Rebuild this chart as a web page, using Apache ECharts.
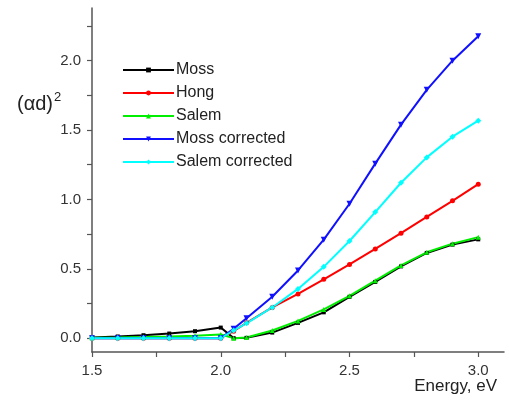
<!DOCTYPE html>
<html>
<head>
<meta charset="utf-8">
<script src="https://cdn.jsdelivr.net/npm/echarts@6/dist/echarts.min.js"></script>
<style>
  html, body { margin: 0; padding: 0; background: #fff; }
  #chart { width: 509px; height: 404px; }
</style>
</head>
<body>
<div id="chart"></div>
<script>
// photon energy, eV
const energy = [1.5, 1.6, 1.7, 1.8, 1.9, 2.0, 2.05, 2.1, 2.2, 2.3, 2.4, 2.5, 2.6, 2.7, 2.8, 2.9, 3.0]

const moss = [0.005, 0.012, 0.021, 0.033, 0.05, 0.076, 0.0, 0.002, 0.04, 0.11, 0.186, 0.298, 0.405, 0.517, 0.614, 0.674, 0.712]
const hong = [0.0, 0.0, 0.0, 0.0, 0.0, 0.0, 0.05, 0.11, 0.221, 0.319, 0.424, 0.531, 0.643, 0.757, 0.874, 0.99, 1.11]
const salem = [0.003, 0.005, 0.008, 0.012, 0.018, 0.026, 0.0, 0.005, 0.055, 0.124, 0.207, 0.305, 0.414, 0.524, 0.619, 0.681, 0.728]
const mossCorr = [0.0, 0.0, 0.0, 0.0, 0.0, 0.0, 0.067, 0.143, 0.298, 0.488, 0.71, 0.969, 1.258, 1.539, 1.79, 2.0, 2.176]
const salemCorr = [0.0, 0.0, 0.0, 0.0, 0.0, 0.0, 0.055, 0.107, 0.221, 0.355, 0.514, 0.70, 0.909, 1.12, 1.303, 1.452, 1.568]

const xLabels = [1.5, 2.0, 2.5, 3.0]
const xTicks = [1.5, 1.75, 2.0, 2.25, 2.5, 2.75, 3.0]
const yLabels = [0, 0.5, 1.0, 1.5, 2.0]
const yTicks = [0, 0.25, 0.5, 0.75, 1.0, 1.25, 1.5, 1.75, 2.0, 2.25]

const pairs = ys => energy.map((x, i) => [x, ys[i]])

const font = 'Liberation Sans, Arial, sans-serif'

function line(name, ys, color, symbol, size, rotate){
    return {
        name: name,
        type: 'line',
        data: pairs(ys),
        symbol: symbol,
        symbolSize: size,
        symbolRotate: rotate || 0,
        showAllSymbol: true,
        lineStyle: { color: color, width: 2 },
        itemStyle: { color: color },
        emphasis: { disabled: true },
        animation: false
    }
}

const chart = echarts.init(document.getElementById('chart'))
chart.setOption({
    backgroundColor: '#fff',
    animation: false,
    grid: { left: 92, right: 5, top: 8, bottom: 52, outerBoundsMode: 'none', containLabel: false },
    title: {
        text: '{a|(αd)}{s|2}',
        left: 12,
        top: 86,
        textStyle: {
            fontWeight: 'normal',
            rich: {
                a: { fontFamily: font, fontSize: 20, fontWeight: 'normal', color: '#222' },
                s: { fontFamily: font, fontSize: 13, fontWeight: 'normal', color: '#222', padding: [0, 0, 13, 1] }
            }
        }
    },
    // x axis title sits under the right end of the axis
    graphic: [{
        type: 'text',
        right: 12,
        top: 378,
        style: { text: 'Energy, eV', fontFamily: font, fontSize: 17, fill: '#222' }
    }],
    legend: {
        orient: 'vertical',
        left: 117,
        top: 57,
        itemWidth: 51,
        itemHeight: 6,
        itemGap: 7,
        textStyle: { fontFamily: font, fontSize: 16, color: '#222', lineHeight: 16, padding: [0, 0, 0, -3] },
        data: ['Moss', 'Hong', 'Salem', 'Moss corrected', 'Salem corrected']
    },
    xAxis: {
        type: 'value',
        min: 1.5,
        max: 3.1,
        interval: 0.5,
        axisLine: { onZero: false, lineStyle: { color: '#555', width: 1.5 } },
        axisTick: { customValues: xTicks, length: 5, inside: false, lineStyle: { color: '#555', width: 1.2 } },
        axisLabel: {
            customValues: xLabels,
            formatter: v => v.toFixed(1),
            fontFamily: font, fontSize: 15, color: '#333', margin: 11
        },
        splitLine: { show: false }
    },
    yAxis: {
        type: 'value',
        min: -0.1,
        max: 2.38,
        interval: 0.5,
        axisLine: { show: true, onZero: false, lineStyle: { color: '#555', width: 1.5 } },
        axisTick: { show: true, customValues: yTicks, length: 5, lineStyle: { color: '#555', width: 1.2 } },
        axisLabel: {
            customValues: yLabels,
            formatter: v => v.toFixed(1),
            fontFamily: font, fontSize: 15, color: '#333', margin: 11
        },
        splitLine: { show: false }
    },
    series: [
        line('Moss', moss, '#000000', 'rect', 4),
        line('Hong', hong, '#ff0000', 'circle', 5),
        line('Salem', salem, '#00ee00', 'triangle', 5),
        line('Moss corrected', mossCorr, '#1010ff', 'triangle', 6, 180),
        line('Salem corrected', salemCorr, '#00ffff', 'diamond', 6)
    ]
})
</script>
</body>
</html>
